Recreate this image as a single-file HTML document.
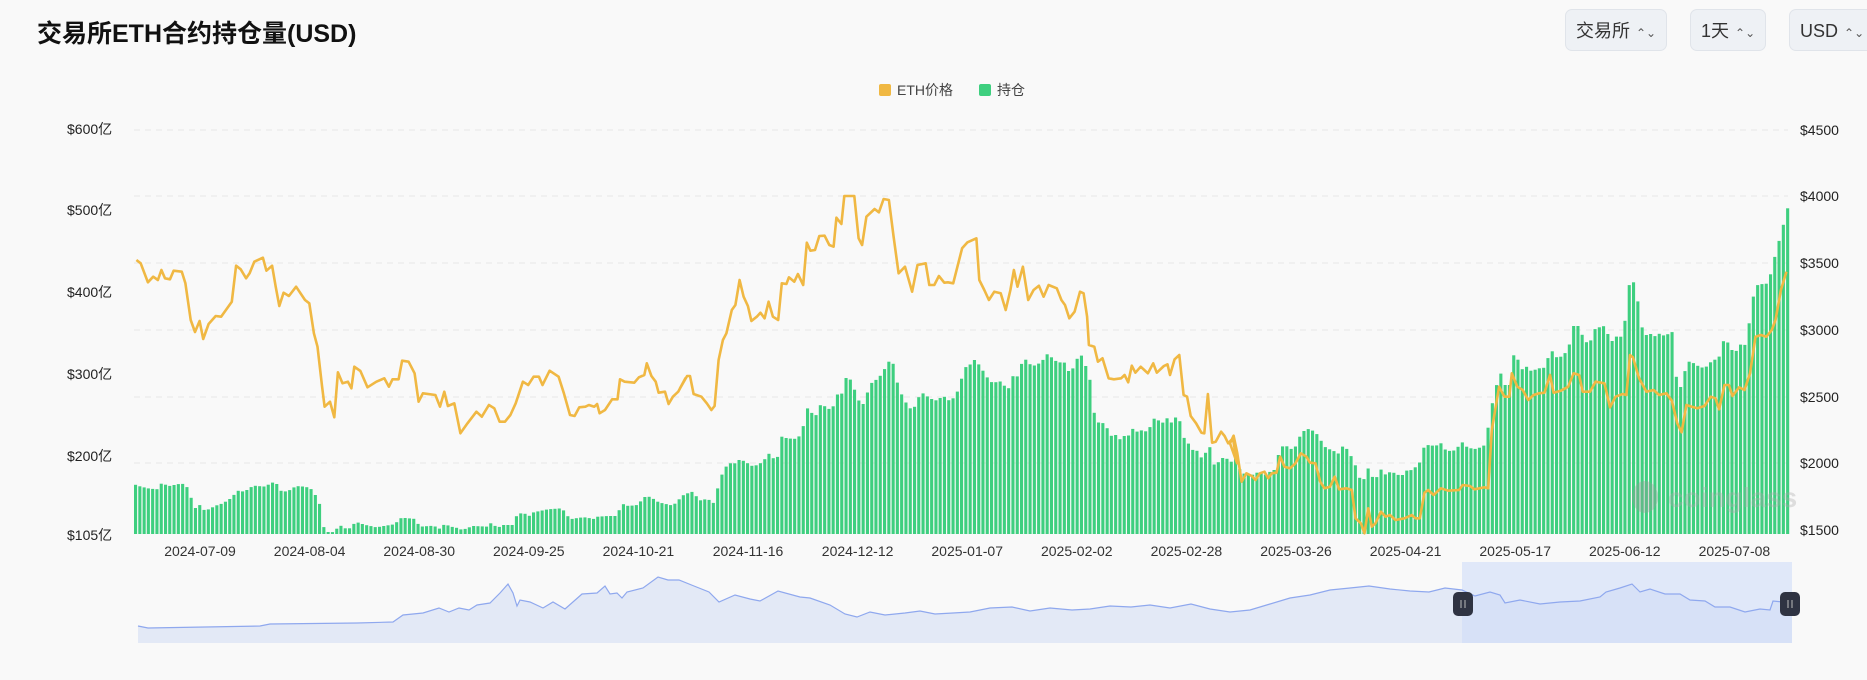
<!DOCTYPE html>
<html><head><meta charset="utf-8">
<style>
body{margin:0;width:1867px;height:680px;background:#f9f9f9;font-family:"Liberation Sans","Noto Sans CJK SC",sans-serif;overflow:hidden;position:relative}
.t{position:absolute;left:37px;top:14px;font-size:25px;font-weight:bold;color:#111}
.btn{position:absolute;top:9px;height:42px;background:#eef1f5;border:1px solid #e0e4ea;border-radius:7px;font-size:18px;color:#333;line-height:42px;box-sizing:border-box;padding-left:10px}
.btn span{font-size:12px;color:#555;margin-left:6px}
</style></head><body>
<div class="t">交易所ETH合约持仓量(USD)</div>
<div class="btn" style="left:1565px;width:102px">交易所<span>⌃⌄</span></div>
<div class="btn" style="left:1690px;width:76px">1天<span>⌃⌄</span></div>
<div class="btn" style="left:1789px;width:90px">USD<span>⌃⌄</span></div>
<svg id="s" width="1867" height="680" style="position:absolute;left:0;top:0" font-family="Liberation Sans, Noto Sans CJK SC, sans-serif"></svg>
<script>
const S=document.getElementById('s');let h='';
[130,196,263,330,397,463].forEach(y=>{h+=`<line x1="134" x2="1788" y1="${y}" y2="${y}" stroke="#e6e6e6" stroke-dasharray="6,5"/>`});
[['$600亿',129],['$500亿',210],['$400亿',292],['$300亿',374],['$200亿',456],['$105亿',535]].forEach(a=>{h+=`<text x="67" y="${a[1]+5}" font-size="14" fill="#222">${a[0]}</text>`});
[['$4500',130],['$4000',196],['$3500',263],['$3000',330],['$2500',397],['$2000',463],['$1500',530]].forEach(a=>{h+=`<text x="1800" y="${a[1]+5}" font-size="14" fill="#222">${a[0]}</text>`});
['2024-07-09','2024-08-04','2024-08-30','2024-09-25','2024-10-21','2024-11-16','2024-12-12','2025-01-07','2025-02-02','2025-02-28','2025-03-26','2025-04-21','2025-05-17','2025-06-12','2025-07-08'].forEach((d,i)=>{h+=`<text x="${200+i*109.6}" y="556" font-size="14" fill="#333" text-anchor="middle">${d}</text>`});
h+=`<rect x="879" y="84" width="12" height="12" rx="2" fill="#f0b843"/><text x="897" y="95" font-size="14" fill="#444">ETH价格</text>`;
h+=`<rect x="979" y="84" width="12" height="12" rx="2" fill="#3ecf7f"/><text x="997" y="95" font-size="14" fill="#444">持仓</text>`;
function conv(arr,ox,sx){const r=[];for(let i=0;i<arr.length;i+=2)r.push([ox+arr[i]/sx,120+arr[i+1]/3]);return r}
const b4=[12,1093,30,1100,50,1105,75,1108,88,1090,110,1098,145,1090,160,1102,170,1130,182,1165,195,1155,205,1170,220,1168,240,1157,260,1150,285,1133,300,1112,320,1115,345,1097,380,1100,395,1087,410,1090,420,1112,440,1115,465,1098,490,1100,505,1105,515,1118,525,1137,537,1168,545,1243,560,1232,572,1240,585,1213,600,1225,620,1225,630,1205,660,1215,690,1222,710,1218,740,1213,760,1193,800,1197,810,1220,850,1217,870,1228,880,1212,900,1220,920,1225,930,1230,960,1218,1000,1220,1010,1210,1030,1223,1045,1215,1070,1215,1080,1190,1100,1176,1115,1190,1130,1177,1170,1168,1210,1165,1222,1185,1235,1197,1260,1193,1280,1192,1295,1198,1310,1190,1340,1188,1365,1188,1375,1150,1395,1158,1420,1155,1445,1127,1460,1133,1480,1147,1500,1152,1520,1157,1540,1135,1555,1120];
const b5=[0,1135,15,1122,35,1115,50,1135,60,1143,75,1135,95,1150,108,1093,120,1055,135,1030,155,1030,168,1017,190,1030,205,1040,230,1027,250,1000,260,1015,275,1010,285,950,300,955,320,957,340,945,355,863,370,880,380,888,390,855,410,860,425,875,438,820,450,835,462,773,480,780,495,830,510,860,520,830,535,790,555,775,570,755,580,725,595,725,605,765,612,810,625,830,640,865,655,865,665,835,680,820,700,835,715,842,725,835,740,830,755,843,770,830,780,806,795,752,805,732,820,735,828,707,840,745,855,758,865,785,880,788,895,783,905,795,920,805,935,760,945,770,958,725,970,718,985,740,995,735,1010,728,1030,700,1045,718,1060,728,1075,725,1085,755,1100,745,1110,718,1125,706,1135,735,1148,780,1160,880,1172,908,1190,910,1205,948,1220,945,1232,958,1240,945,1252,955,1265,925,1280,935,1295,930,1310,937,1325,895,1338,900,1350,910,1362,893,1375,908,1385,900,1395,870,1405,945,1420,965,1435,990,1445,985,1455,1015,1470,1005,1480,958,1490,1028,1500,1038,1515,1015,1528,1012,1540,1028,1555,1012];
const b6=[0,1030,12,1012,22,1040,35,1060,60,1065,80,1055,100,1065,115,1050,125,1050,137,980,155,978,170,988,185,975,195,937,210,930,220,925,230,935,242,945,255,972,265,985,280,990,300,1002,310,978,325,990,345,1037,355,1073,370,1078,380,1045,395,1078,405,1070,418,1043,430,1070,440,1055,455,1060,470,1070,485,1052,500,1050,520,1033,530,985,545,975,565,978,580,970,590,988,610,995,625,985,635,963,650,980,670,988,690,982,705,972,715,862,727,838,740,745,755,795,770,795,775,703,790,712,800,750,815,740,830,755,845,745,860,745,870,738,880,682,895,712,910,710,915,700,930,698,940,618,960,618,975,665,985,668,995,658,1008,612,1020,628,1030,615,1045,660,1055,665,1065,645,1080,653,1090,570,1100,475,1112,490,1125,565,1135,635,1150,650,1160,638,1170,650,1182,640,1195,648,1205,642,1215,630,1228,778,1240,803,1252,748,1265,720,1275,730,1290,740,1305,745,1320,728,1335,718,1345,710,1355,663,1370,668,1380,690,1392,693,1402,673,1415,678,1425,628,1437,538,1448,497,1460,490,1470,498,1483,478,1495,423,1508,370,1520,322,1532,265];
const B=[...conv(b4,130,2.8),...conv(b5,680,2.8),...conv(b6,1230,2.75)].sort((a,b)=>a[0]-b[0]);
function interp(P,x){if(x<=P[0][0])return P[0][1];for(let i=1;i<P.length;i++){if(x<=P[i][0]){const t=(x-P[i-1][0])/(P[i][0]-P[i-1][0]);return P[i-1][1]+t*(P[i][1]-P[i-1][1])}}return P[P.length-1][1]}
for(let x=134;x<1789;x+=4.28){const y=interp(B,x+1.5);h+=`<rect x="${x.toFixed(1)}" y="${y.toFixed(1)}" width="3.1" height="${(534-y).toFixed(1)}" fill="#3ecf7f"/>`}
h+=`<g opacity="0.35"><ellipse cx="1645" cy="497" rx="13" ry="16" fill="#999"/><text x="1668" y="507" font-size="28" font-weight="bold" fill="#aaa">coinglass</text></g>`;
const p4=[18,420,30,430,50,487,65,470,78,480,88,450,98,475,112,478,122,452,145,455,155,490,170,600,182,636,195,603,205,657,220,612,240,588,255,590,285,545,297,437,310,448,325,475,335,460,348,425,372,413,382,452,398,437,408,500,418,558,430,518,445,528,465,500,490,540,502,550,515,640,525,680,538,800,545,860,560,845,572,892,582,757,595,790,610,785,620,805,628,740,645,753,665,802,690,785,712,775,725,800,735,778,752,778,762,722,780,725,797,760,808,845,820,820,855,825,868,860,880,815,890,858,908,850,925,940,945,910,970,875,985,890,1005,855,1020,865,1035,905,1050,905,1065,885,1080,850,1100,785,1115,795,1130,770,1145,770,1155,795,1175,752,1200,770,1215,820,1232,885,1245,888,1258,862,1275,860,1285,855,1300,860,1308,852,1315,880,1330,870,1350,838,1365,838,1372,778,1385,785,1412,788,1425,772,1440,765,1447,730,1460,768,1472,785,1480,818,1498,815,1508,852,1520,830,1535,815,1555,775];
const p5=[0,805,20,768,28,768,38,822,60,830,75,850,88,870,97,858,108,720,120,660,130,640,145,570,155,555,167,480,178,530,190,558,200,603,215,590,225,578,237,595,248,545,260,590,275,600,285,490,298,492,305,472,320,485,330,462,345,495,355,368,365,392,378,390,390,348,405,347,418,375,430,380,438,293,452,312,460,228,488,228,500,355,510,375,522,290,545,267,557,277,570,237,585,240,598,350,612,460,630,440,650,515,665,435,688,430,698,495,712,495,725,468,740,488,750,487,765,490,790,385,805,367,830,355,838,480,852,510,865,540,880,515,898,520,912,570,925,510,935,450,945,500,960,440,975,540,990,510,1005,497,1018,530,1032,495,1055,505,1068,540,1078,555,1090,595,1105,575,1120,515,1130,520,1140,590,1145,675,1160,680,1170,725,1183,715,1200,775,1215,778,1235,775,1245,765,1255,787,1265,737,1275,758,1290,740,1310,760,1325,730,1335,758,1355,738,1365,733,1372,765,1385,718,1398,705,1410,825,1420,830,1430,888,1445,910,1460,938,1468,940,1478,822,1490,968,1500,965,1515,935,1525,948,1535,970,1548,955,1560,1030];
const p6=[0,970,10,947,20,1000,32,1085,45,1060,60,1068,70,1080,82,1060,95,1055,105,1075,115,1060,128,1058,138,1010,150,1040,165,1045,180,1030,195,1000,210,1010,220,1028,235,1030,248,1085,260,1105,275,1100,288,1070,300,1108,320,1105,335,1110,345,1195,360,1210,370,1240,380,1165,390,1220,400,1210,415,1175,428,1190,440,1185,455,1200,480,1195,500,1185,510,1195,522,1195,535,1118,545,1110,560,1125,580,1105,600,1112,630,1110,640,1095,660,1098,672,1108,700,1102,710,1105,720,930,740,800,755,830,768,830,775,760,790,800,805,810,820,840,835,825,850,820,865,818,880,765,890,818,910,812,930,800,945,760,960,765,970,815,990,815,1005,785,1030,790,1045,862,1060,830,1080,822,1090,825,1100,705,1108,712,1125,775,1145,815,1165,810,1180,825,1200,820,1215,842,1230,910,1242,937,1255,855,1270,860,1285,865,1305,858,1322,830,1335,835,1345,868,1360,795,1372,795,1382,828,1400,802,1415,810,1430,760,1445,650,1460,645,1475,650,1490,630,1500,600,1515,510,1530,455];
const P=[...conv(p4,130,2.8),...conv(p5,680,2.8),...conv(p6,1230,2.75)];
h+=`<polyline points="${P.map(p=>p[0].toFixed(1)+','+p[1].toFixed(1)).join(' ')}" fill="none" stroke="#f0b843" stroke-width="2.6" stroke-linejoin="round"/>`;
const N=[[138,626],[148,628],[260,626],[270,624],[357,623],[393,622],[403,615],[423,613],[439,608],[449,612],[459,608],[469,610],[477,605],[490,603],[500,593],[508,584],[513,593],[517,606],[520,600],[530,602],[543,608],[553,602],[565,609],[582,594],[597,593],[605,586],[610,594],[617,593],[622,598],[627,592],[643,588],[658,577],[668,580],[679,580],[694,586],[709,592],[719,602],[735,595],[750,599],[760,601],[778,591],[800,597],[810,598],[830,605],[845,614],[857,617],[870,612],[885,615],[905,613],[920,611],[935,614],[953,613],[970,612],[990,608],[1012,607],[1030,611],[1050,608],[1072,610],[1090,609],[1110,606],[1131,607],[1150,605],[1170,608],[1191,604],[1210,609],[1230,612],[1250,610],[1270,604],[1290,598],[1310,595],[1330,590],[1350,588],[1369,586],[1390,589],[1410,591],[1429,592],[1445,588],[1462,590],[1475,596],[1490,592],[1500,595],[1505,603],[1520,600],[1540,604],[1560,602],[1580,601],[1600,597],[1606,592],[1620,588],[1632,584],[1640,592],[1650,589],[1665,594],[1680,594],[1690,600],[1705,601],[1715,607],[1730,607],[1745,612],[1760,609],[1770,610],[1773,601],[1792,603]];
const np=N.map(p=>p[0]+','+p[1]).join(' ');
h+=`<polygon points="138,643 ${np} 1792,643" fill="#e3e9f6"/>`;
h+=`<rect x="1462" y="562" width="330" height="81" fill="#cfdcf8" opacity="0.6"/>`;
h+=`<polyline points="${np}" fill="none" stroke="#8fa8ee" stroke-width="1.2"/>`;
[1463,1790].forEach(x=>{h+=`<rect x="${x-10}" y="592" width="20" height="24" rx="5" fill="#2f3342"/><line x1="${x-2}" x2="${x-2}" y1="600" y2="608" stroke="#bbb"/><line x1="${x+2}" x2="${x+2}" y1="600" y2="608" stroke="#bbb"/>`});
S.innerHTML=h;
</script>
</body></html>
